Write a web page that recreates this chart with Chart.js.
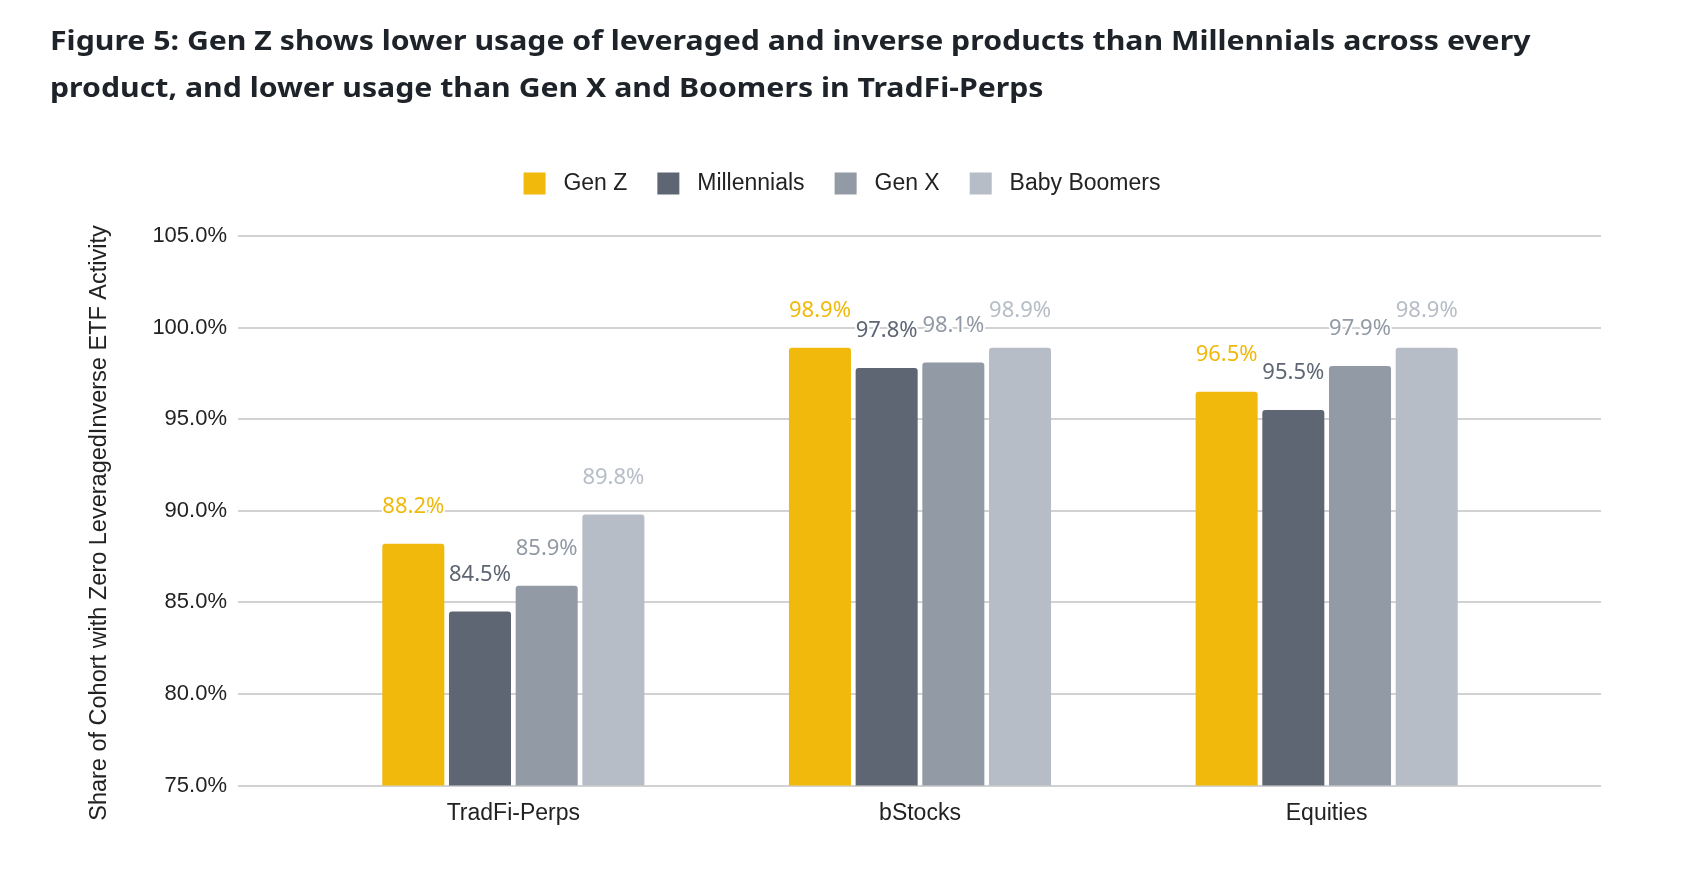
<!DOCTYPE html>
<html>
<head>
<meta charset="utf-8">
<script src="https://cdn.jsdelivr.net/npm/chart.js@4.4.1/dist/chart.umd.min.js"></script>
<style>
  html, body { margin: 0; padding: 0; background: #ffffff; }
  #wrap { position: relative; width: 1684px; height: 882px; overflow: hidden; }
  #title {
    position: absolute; left: 50px; top: 17px;
    font-family: "Noto Sans", sans-serif; font-weight: 700; font-size: 26px;
    line-height: 47px; color: #1E2329; white-space: nowrap;
    transform: scaleX(1.163); transform-origin: left top;
  }
  canvas { position: absolute; left: 0; top: 0; }
</style>
</head>
<body>
<div id="wrap">
  <canvas id="c" width="1684" height="882"></canvas>
  <div id="title">Figure 5: Gen Z shows lower usage of leveraged and inverse products than Millennials across every<br>product, and lower usage than Gen X and Boomers in TradFi-Perps</div>
</div>
<script>
const categories = ["TradFi-Perps", "bStocks", "Equities"];
const seriesNames = ["Gen Z", "Millennials", "Gen X", "Baby Boomers"];
const genZ = [88.2, 98.9, 96.5];
const millennials = [84.5, 97.8, 95.5];
const genX = [85.9, 98.1, 97.9];
const babyBoomers = [89.8, 98.9, 98.9];
const seriesColors = ["#F0B90B", "#5E6673", "#929AA5", "#B7BDC6"];
const yTicks = [75, 80, 85, 90, 95, 100, 105];
const yTitle = "Share of Cohort with Zero LeveragedInverse ETF Activity";

const seriesValues = [genZ, millennials, genX, babyBoomers];

const gridPlugin = {
  id: "fullGrid",
  beforeDatasetsDraw(chart) {
    const ctx = chart.ctx, y = chart.scales.y;
    ctx.save();
    ctx.strokeStyle = "#D2D2D2";
    ctx.lineWidth = 2;
    y.ticks.forEach(t => {
      const py = Math.round(y.getPixelForValue(t.value));
      ctx.beginPath();
      ctx.moveTo(238, py);
      ctx.lineTo(1601, py);
      ctx.stroke();
    });
    ctx.restore();
  },
  afterDraw(chart) {
    const ctx = chart.ctx;
    ctx.save();
    ctx.translate(100, 523);
    ctx.rotate(-Math.PI / 2);
    ctx.font = "23.5px 'Liberation Sans', Arial, sans-serif";
    ctx.fillStyle = "#222222";
    ctx.textAlign = "center";
    ctx.textBaseline = "middle";
    ctx.fillText(yTitle, 0, 0);
    ctx.restore();
  }
};

const labelPlugin = {
  id: "valueLabels",
  afterDatasetsDraw(chart) {
    const ctx = chart.ctx;
    ctx.save();
    ctx.font = "22px 'Noto Sans', sans-serif";
    ctx.textAlign = "center";
    ctx.textBaseline = "middle";
    ctx.lineJoin = "round";
    chart.data.datasets.forEach((ds, di) => {
      const meta = chart.getDatasetMeta(di);
      meta.data.forEach((bar, i) => {
        const txt = ds.data[i].toFixed(1) + "%";
        const x = bar.x, y = bar.y - 37;
        ctx.strokeStyle = "#ffffff";
        ctx.lineWidth = 4;
        ctx.strokeText(txt, x, y);
        ctx.fillStyle = seriesColors[di];
        ctx.fillText(txt, x, y);
      });
    });
    ctx.restore();
  }
};

new Chart(document.getElementById("c"), {
  type: "bar",
  data: {
    labels: categories,
    datasets: seriesNames.map((name, i) => ({
      label: name,
      data: seriesValues[i],
      backgroundColor: seriesColors[i],
      borderRadius: 3,
      borderSkipped: "start",
      categoryPercentage: 0.656,
      barPercentage: 0.93
    }))
  },
  options: {
    responsive: false,
    animation: false,
    devicePixelRatio: 1,
    layout: { padding: { top: 142, left: 0, right: 0, bottom: 0 } },
    plugins: {
      legend: {
        position: "top",
        align: "center",
        labels: {
          boxWidth: 22,
          boxHeight: 22,
          useBorderRadius: true,
          borderRadius: 2,
          padding: 30,
          color: "#222222",
          font: { family: "'Liberation Sans', Arial, sans-serif", size: 23 },
          generateLabels(chart) {
            return chart.data.datasets.map((ds, i) => ({
              text: " " + ds.label,
              fillStyle: seriesColors[i],
              strokeStyle: seriesColors[i],
              lineWidth: 0,
              fontColor: "#222222",
              hidden: false,
              datasetIndex: i
            }));
          }
        }
      },
      tooltip: { enabled: false }
    },
    scales: {
      x: {
        grid: { display: false },
        border: { display: false },
        ticks: {
          color: "#222222",
          font: { family: "'Liberation Sans', Arial, sans-serif", size: 23 },
          padding: 6
        },
        afterFit(scale) { scale.height = 96.5; }
      },
      xTop: {
        type: "linear",
        position: "top",
        display: true,
        grid: { display: false, drawTicks: false },
        border: { display: false },
        ticks: { display: false },
        afterFit(scale) { scale.height = 31; }
      },
      y: {
        position: "left",
        min: 75,
        max: 105,
        afterBuildTicks(scale) { scale.ticks = yTicks.map(v => ({ value: v })); },
        grid: { display: false, drawTicks: false },
        border: { display: false },
        ticks: {
          color: "#222222",
          font: { family: "'Liberation Sans', Arial, sans-serif", size: 22 },
          padding: 83,
          callback: v => Number(v).toFixed(1) + "%"
        },
        afterFit(scale) { scale.width = 310; }
      },
      yRight: {
        position: "right",
        display: true,
        grid: { display: false, drawTicks: false },
        border: { display: false },
        ticks: { display: false },
        afterFit(scale) { scale.width = 154; }
      }
    }
  },
  plugins: [gridPlugin, labelPlugin]
});
</script>
</body>
</html>
